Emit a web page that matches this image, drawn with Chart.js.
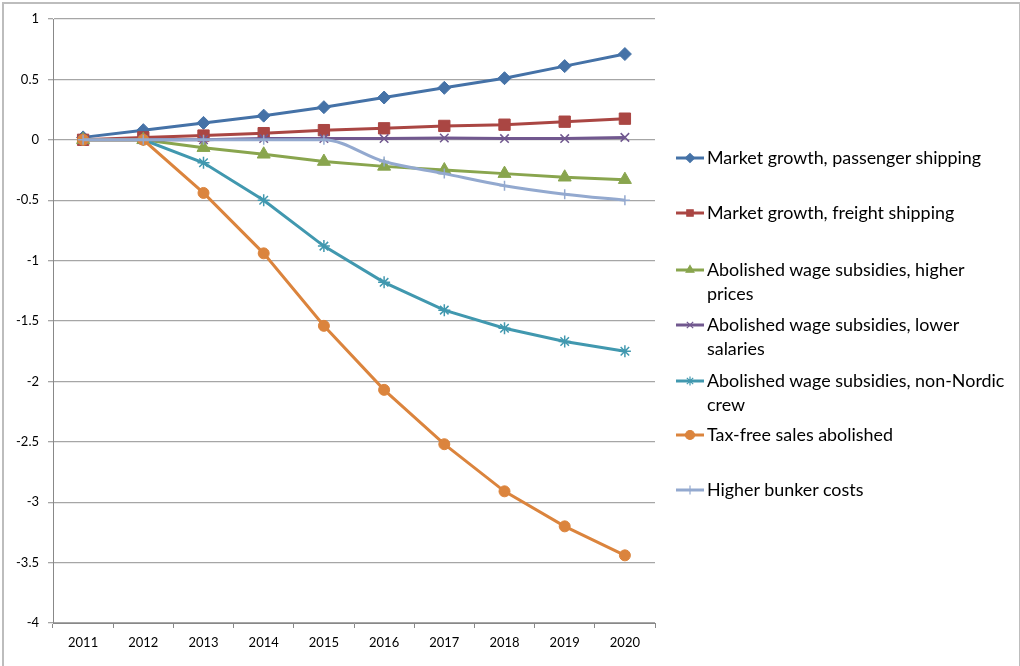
<!DOCTYPE html>
<html>
<head>
<meta charset="utf-8">
<script src="https://cdn.jsdelivr.net/npm/chart.js@4"></script>
<style>
    body { margin: 0; background: #fff; font-family: Lato, "Liberation Sans", sans-serif; }
    #wrap { position: relative; width: 1020px; height: 666px; overflow: hidden; }
    #frame { position: absolute; left: 2px; top: 2px; width: 1015px; height: 700px; border: 2px solid #bdbdbd; }
    #chartCanvas { position: absolute; left: 0; top: 0; }
    .legend-item { position: absolute; left: 676px; line-height: 23.5px; font-size: 17.9px; color: #000; white-space: nowrap; }
    .legend-item canvas { position: absolute; left: 0; top: 5px; }
    .legend-item span { position: absolute; left: 31px; top: 0; }
</style>
</head>
<body>
<div id="wrap">
    <div id="frame"></div>
    <canvas id="chartCanvas" width="1020" height="666"></canvas>
    <div id="legend"></div>
</div>
<script>
const years = ['2011', '2012', '2013', '2014', '2015', '2016', '2017', '2018', '2019', '2020'];

const seriesNames = [
    'Market growth, passenger shipping',
    'Market growth, freight shipping',
    'Abolished wage subsidies, higher\nprices',
    'Abolished wage subsidies, lower\nsalaries',
    'Abolished wage subsidies, non-Nordic\ncrew',
    'Tax-free sales abolished',
    'Higher bunker costs'
];

const passengerGrowth = [0.02, 0.08, 0.14, 0.20, 0.27, 0.35, 0.43, 0.51, 0.61, 0.71];
const freightGrowth   = [0.00, 0.02, 0.035, 0.055, 0.08, 0.095, 0.115, 0.125, 0.15, 0.175];
const higherPrices    = [0.00, 0.00, -0.065, -0.12, -0.18, -0.22, -0.25, -0.28, -0.31, -0.33];
const lowerSalaries   = [0.00, 0.00, 0.00, 0.01, 0.01, 0.01, 0.015, 0.01, 0.01, 0.02];
const nonNordicCrew   = [0.00, 0.00, -0.19, -0.50, -0.88, -1.18, -1.41, -1.56, -1.67, -1.75];
const taxFreeAbolished = [0.00, 0.00, -0.44, -0.94, -1.54, -2.07, -2.52, -2.91, -3.20, -3.44];
const bunkerCosts     = [0.00, 0.00, 0.00, 0.00, 0.00, -0.18, -0.28, -0.38, -0.45, -0.50];

const seriesColors = ['#4572A7', '#AA4643', '#89A54E', '#71588F', '#4198AF', '#DB843D', '#93A9CF'];
const seriesPoints = ['rectRot', 'rect', 'triangle', 'crossRot', 'star', 'circle', 'cross'];
const pointRadii = [6.5, 8, 7.5, 6, 6, 5.5, 5];
const legendTops = [146, 201, 258, 313, 369, 423, 478];

const yTickMin = -4;
const yTickMax = 1;
const yTickStep = 0.5;

const allSeries = [passengerGrowth, freightGrowth, higherPrices, lowerSalaries, nonNordicCrew, taxFreeAbolished, bunkerCosts];

const tickFont = { family: 'Lato, "Liberation Sans", sans-serif', size: 13 };

const datasets = allSeries.map((values, i) => {
    const lineOnly = ['crossRot', 'star', 'cross'].includes(seriesPoints[i]);
    return {
        label: seriesNames[i].replace('\n', ' '),
        data: values,
        borderColor: seriesColors[i],
        backgroundColor: seriesColors[i],
        borderWidth: 3,
        pointStyle: seriesPoints[i],
        pointRadius: pointRadii[i],
        pointBorderWidth: lineOnly ? 1.5 : 1,
        pointBackgroundColor: seriesColors[i],
        pointBorderColor: seriesColors[i],
        cubicInterpolationMode: i === 6 ? 'monotone' : 'default',
        tension: 0,
        order: allSeries.length - i
    };
});

new Chart(document.getElementById('chartCanvas'), {
    type: 'line',
    data: { labels: years, datasets: datasets },
    options: {
        responsive: false,
        animation: false,
        layout: { padding: { left: 0, top: 19, right: 365, bottom: 0 } },
        plugins: {
            legend: { display: false },
            tooltip: { enabled: false }
        },
        scales: {
            x: {
                type: 'category',
                offset: true,
                grid: { offset: true, drawOnChartArea: false, drawTicks: true, tickLength: 5, color: '#888' },
                border: { color: '#888', width: 1 },
                ticks: { color: '#000', font: tickFont, padding: 7, maxRotation: 0 },
                afterFit: scale => { scale.height = 43; }
            },
            y: {
                min: yTickMin,
                max: yTickMax,
                grid: { color: '#a6a6a6', lineWidth: 1.3, drawTicks: true, tickLength: 5 },
                border: { color: '#888', width: 1 },
                ticks: {
                    stepSize: yTickStep,
                    color: '#000',
                    font: tickFont,
                    padding: 9,
                    callback: v => String(Math.round(v * 10) / 10)
                },
                afterFit: scale => { scale.width = 53; }
            }
        }
    }
});

// --- легенда справа ---
function drawLegendMarker(canvas, color, style) {
    const ctx = canvas.getContext('2d');
    ctx.strokeStyle = color;
    ctx.fillStyle = color;
    ctx.lineWidth = 3;
    ctx.beginPath();
    ctx.moveTo(0, 7);
    ctx.lineTo(28, 7);
    ctx.stroke();
    ctx.lineWidth = 1.2;
    if (Chart.helpers && Chart.helpers.drawPoint) {
        Chart.helpers.drawPoint(ctx, { pointStyle: style, radius: 4.5, borderWidth: 1.2, rotation: 0 }, 14, 7);
    }
}

const legendDiv = document.getElementById('legend');
seriesNames.forEach((name, i) => {
    const item = document.createElement('div');
    item.className = 'legend-item';
    item.style.top = legendTops[i] + 'px';
    const c = document.createElement('canvas');
    c.width = 30;
    c.height = 14;
    item.appendChild(c);
    const span = document.createElement('span');
    span.innerHTML = name.replace('\n', '<br>');
    item.appendChild(span);
    legendDiv.appendChild(item);
    drawLegendMarker(c, seriesColors[i], seriesPoints[i]);
});
</script>
</body>
</html>
